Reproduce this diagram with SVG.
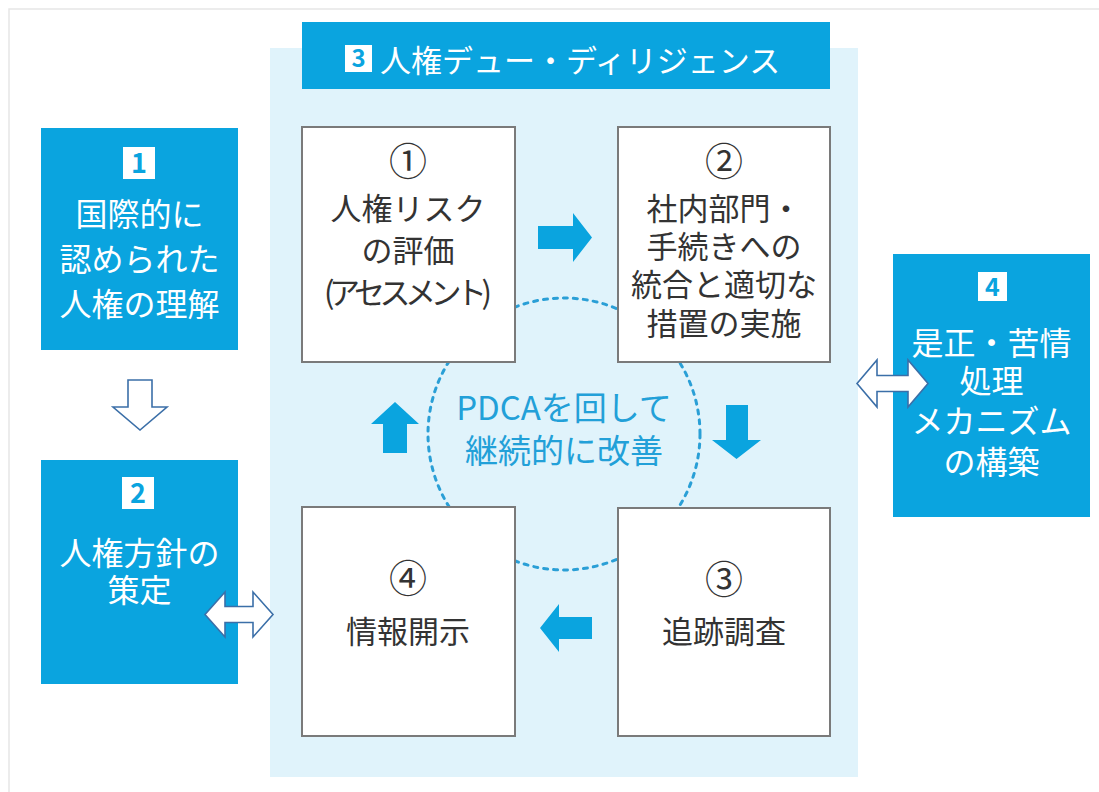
<svg xmlns="http://www.w3.org/2000/svg" width="1099" height="792" viewBox="0 0 1099 792">
<style>
  text { font-family: "Noto Sans CJK JP", "Noto Sans", sans-serif; }
  .blue { fill: #0aa4df; }
  .wbox { fill: #ffffff; stroke: #7a7a7a; stroke-width: 2; }
  .dark { fill: #333333; font-size: 31px; text-anchor: middle; }
  .circ { fill: #333333; font-size: 38px; text-anchor: middle; }
  .white { fill: #ffffff; font-size: 32px; text-anchor: middle; font-weight: 400; }
  .badge { fill: #ffffff; }
  .bnum { fill: #0aa4df; font-weight: 700; text-anchor: middle; }
  .solid { fill: #0aa4df; }
  .hollow { fill: #ffffff; stroke: #3b6fa8; stroke-width: 1.6; stroke-linejoin: miter; }
  .pdca { fill: #22a0d8; font-size: 33px; text-anchor: middle; }
</style>
<rect x="0" y="0" width="1099" height="792" fill="#ffffff"/>
<rect x="9" y="9" width="1100" height="790" fill="none" stroke="#e6e6e6" stroke-width="1.5"/>

<g id="dd-panel">
  <rect x="270" y="48" width="588" height="729" fill="#e0f3fb"/>
  <rect x="302" y="22" width="528" height="67" class="blue"/>
  <rect x="345" y="45" width="27" height="27" class="badge"/>
  <text x="358.5" y="67" class="bnum" font-size="24">3</text>
  <text x="380" y="72" fill="#ffffff" font-size="31">人権デュー・ディリジェンス</text>
</g>

<g id="pdca-cycle">
  <circle cx="564" cy="434" r="136" fill="none" stroke="#2a9fd6" stroke-width="3" stroke-dasharray="4 6" stroke-linecap="round"/>
  <text x="564" y="420" class="pdca">PDCAを回して</text>
  <text x="564" y="463" class="pdca">継続的に改善</text>
</g>

<g id="step1">
  <rect x="302" y="127" width="213" height="235" class="wbox"/>
  <text x="408" y="175" class="circ">①</text>
  <text x="408" y="220" class="dark">人権リスク</text>
  <text x="408" y="262" class="dark">の評価</text>
  <text x="408" y="304" class="dark" textLength="168" lengthAdjust="spacing">(アセスメント)</text>
</g>

<g id="step2">
  <rect x="618" y="127" width="212" height="235" class="wbox"/>
  <text x="724" y="175" class="circ">②</text>
  <text x="724" y="220" class="dark">社内部門・</text>
  <text x="724" y="258" class="dark">手続きへの</text>
  <text x="724" y="296" class="dark">統合と適切な</text>
  <text x="724" y="335" class="dark">措置の実施</text>
</g>

<g id="step3">
  <rect x="618" y="508" width="212" height="228" class="wbox"/>
  <text x="724" y="593" class="circ">③</text>
  <text x="724" y="643" class="dark">追跡調査</text>
</g>

<g id="step4">
  <rect x="302" y="507" width="213" height="229" class="wbox"/>
  <text x="408" y="592" class="circ">④</text>
  <text x="408" y="643" class="dark">情報開示</text>
</g>

<g id="box1">
  <rect x="41" y="128" width="197" height="222" class="blue"/>
  <rect x="123" y="147" width="32" height="32" class="badge"/>
  <text x="139" y="173" class="bnum" font-size="27">1</text>
  <text x="139.5" y="226" class="white">国際的に</text>
  <text x="139.5" y="271" class="white">認められた</text>
  <text x="139.5" y="316" class="white">人権の理解</text>
</g>

<g id="box2">
  <rect x="41" y="460" width="197" height="224" class="blue"/>
  <rect x="122" y="477" width="32" height="32" class="badge"/>
  <text x="138" y="503" class="bnum" font-size="27">2</text>
  <text x="139.5" y="565" class="white">人権方針の</text>
  <text x="139.5" y="602" class="white">策定</text>
</g>

<g id="box4">
  <rect x="893" y="254" width="197" height="263" class="blue"/>
  <rect x="978" y="272" width="29" height="29" class="badge"/>
  <text x="992.5" y="296" class="bnum" font-size="25">4</text>
  <text x="991.5" y="355" class="white">是正・苦情</text>
  <text x="991.5" y="393" class="white">処理</text>
  <text x="991.5" y="433" class="white">メカニズム</text>
  <text x="991.5" y="474" class="white">の構築</text>
</g>

<g id="connectors">
  <path class="solid" d="M538,226 H573 V213 L592,237.5 L573,262 V249 H538 Z"/>
  <path class="solid" d="M726,405 H748 V440 H761 L736.5,459 L712,440 H726 Z"/>
  <path class="solid" d="M592,617 H559 V604 L540,628 L559,652 V639 H592 Z"/>
  <path class="solid" d="M395,402 L419,424 H407 V453 H383 V424 H371 Z"/>
  <path class="hollow" d="M128,380 H152 V407 H167 L140,430 L113,407 H128 Z"/>
  <path class="hollow" d="M205,614.5 L225,592 V606.5 H253 V592 L273,614.5 L253,637 V622.5 H225 V637 Z"/>
  <path class="hollow" d="M857,383.5 L877,360 V375.5 H908 V360 L928,383.5 L908,407 V391.5 H877 V407 Z"/>
</g>
</svg>
